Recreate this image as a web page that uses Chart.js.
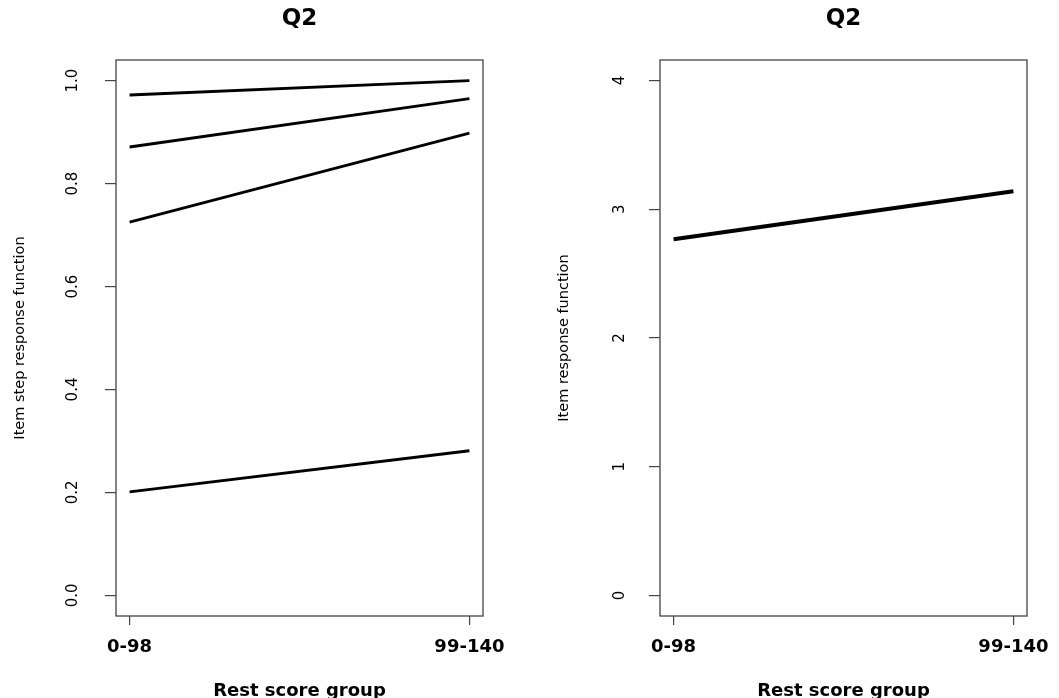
<!DOCTYPE html>
<html><head><meta charset="utf-8">
<script src="https://cdn.jsdelivr.net/npm/chart.js@4/dist/chart.umd.min.js"></script>
<style>
html,body{margin:0;padding:0;background:#fff;overflow:hidden}
#wrap{position:relative;width:1059px;height:698px;background:#fff}
canvas{position:absolute;top:0}
#c1{left:0}
#c2{left:530px}
</style></head><body>
<div id="wrap">
<canvas id="c1" width="530" height="698"></canvas>
<canvas id="c2" width="529" height="698"></canvas>
</div>
<script>
// ---- data ----
const categories = ['0-98', '99-140'];
const stepCurve1 = [0.972, 1.000];
const stepCurve2 = [0.871, 0.965];
const stepCurve3 = [0.725, 0.898];
const stepCurve4 = [0.201, 0.281];
const itemResponse = [2.768, 3.140];
const leftTickValues = [0, 0.2, 0.4, 0.6, 0.8, 1.0];
const leftTickLabels = ['0.0', '0.2', '0.4', '0.6', '0.8', '1.0'];
const rightTickValues = [0, 1, 2, 3, 4];
const rightTickLabels = ['0', '1', '2', '3', '4'];
const panelTitle = 'Q2';
const xTitle = 'Rest score group';
const leftYTitle = 'Item step response function';
const rightYTitle = 'Item response function';

const boxPlugin = {
  id: 'rbox',
  afterDatasetsDraw(chart) {
    const {ctx, chartArea: a} = chart;
    ctx.save();
    ctx.strokeStyle = '#444';
    ctx.lineWidth = 1.3;
    ctx.strokeRect(a.left, a.top, a.right - a.left, a.bottom - a.top);
    ctx.restore();
  }
};

function toPoints(arr) { return arr.map((v, i) => ({x: i, y: v})); }

function makeChart(id, series, lineWidth, yMin, yMax, tickVals, tickLabels, yTitle, o) {
  return new Chart(document.getElementById(id), {
    type: 'line',
    data: {
      datasets: series.map(s => ({
        data: toPoints(s),
        borderColor: '#000',
        borderWidth: lineWidth,
        pointRadius: 0,
        fill: false,
        tension: 0
      }))
    },
    options: {
      responsive: false,
      animation: false,
      devicePixelRatio: 1,
      layout: {padding: {left: 0, right: o.rightPad, top: 0, bottom: 0}},
      plugins: {
        legend: {display: false},
        tooltip: {enabled: false},
        title: {
          display: true,
          text: panelTitle,
          fullSize: false,
          color: '#000',
          font: {family: 'DejaVu Sans', weight: 'bold', size: 23, lineHeight: 1},
          padding: {top: 8, bottom: 29}
        }
      },
      scales: {
        x: {
          type: 'linear',
          min: -0.04, max: 1.04,
          afterBuildTicks: s => { s.ticks = categories.map((c, i) => ({value: i})); },
          afterFit: s => { s.height = 82; },
          border: {display: false},
          grid: {drawOnChartArea: false, drawTicks: true, tickLength: 9, color: '#444', lineWidth: 1.2},
          ticks: {
            autoSkip: false, maxRotation: 0, minRotation: 0,
            color: '#000', padding: 8,
            font: {family: 'DejaVu Sans', weight: 'bold', size: 18, lineHeight: 1.64},
            callback: v => categories[v] ?? ''
          },
          title: {
            display: true, text: xTitle, color: '#000',
            font: {family: 'DejaVu Sans', weight: 'bold', size: 18, lineHeight: 1},
            padding: {top: 0, bottom: -2}
          }
        },
        y: {
          type: 'linear',
          min: yMin, max: yMax,
          afterBuildTicks: s => { s.ticks = tickVals.map(v => ({value: v})); },
          afterFit: s => { s.width = o.yWidth; },
          border: {display: false},
          grid: {drawOnChartArea: false, drawTicks: true, tickLength: 11, color: '#444', lineWidth: 1.2},
          ticks: {
            autoSkip: false, minRotation: 90, maxRotation: 90, crossAlign: 'center',
            color: '#000', padding: o.tickPad,
            font: {family: 'DejaVu Sans', size: 15},
            callback: v => { const k = tickVals.indexOf(v); return k >= 0 ? tickLabels[k] : ''; }
          },
          title: {
            display: true, text: yTitle, color: '#000',
            font: {family: 'DejaVu Sans', size: 14.5},
            padding: {top: o.titlePad, bottom: 0}
          }
        }
      }
    },
    plugins: [boxPlugin]
  });
}

makeChart('c1', [stepCurve1, stepCurve2, stepCurve3, stepCurve4], 2.8, -0.04, 1.04,
  leftTickValues, leftTickLabels, leftYTitle, {yWidth: 116, rightPad: 47, tickPad: 20, titlePad: 12});
makeChart('c2', [itemResponse], 4, -0.16, 4.16,
  rightTickValues, rightTickLabels, rightYTitle, {yWidth: 130, rightPad: 32, tickPad: 24, titlePad: 26});
</script>
</body></html>
